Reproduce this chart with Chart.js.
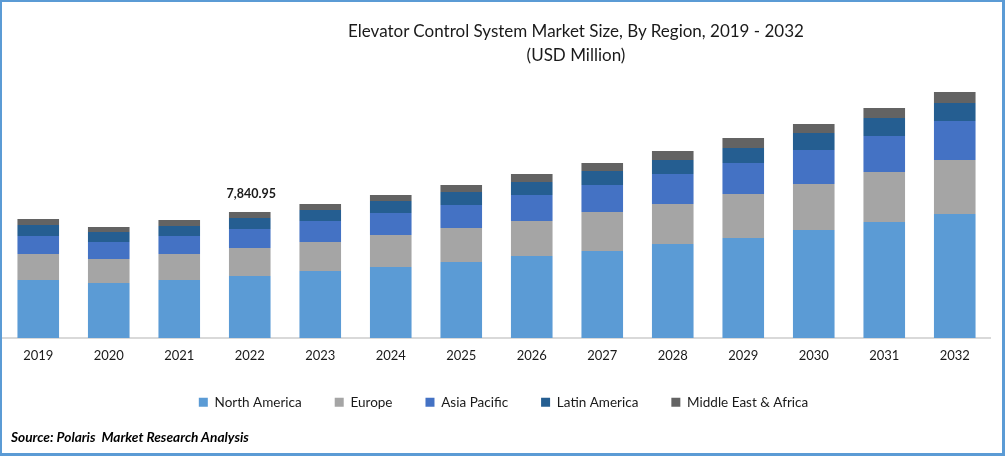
<!DOCTYPE html>
<html>
<head>
<meta charset="utf-8">
<title>Elevator Control System Market Size</title>
<script src="https://cdn.jsdelivr.net/npm/chart.js@4"></script>
<style>
  html, body { margin: 0; padding: 0; background: #fff; }
  #frame { position: relative; width: 1005px; height: 456px; box-sizing: border-box; overflow: hidden; }
  #border { position: absolute; inset: 0; border: 2px solid #5b9bd5; border-right-width: 3px; border-bottom-width: 3px; box-sizing: border-box; pointer-events: none; }
  #chart { position: absolute; left: 0; top: 0; }
  #title { position: absolute; left: 276px; width: 600px; top: 19px; text-align: center; font: 17px/24px Lato, sans-serif; color: #1a1a1a; }
  #source { position: absolute; left: 11px; top: 428px; font: italic bold 13.7px Lato, sans-serif; color: #000; }
</style>
</head>
<body>
<div id="frame">
  <canvas id="chart" width="1005" height="456"></canvas>
  <div id="title">Elevator Control System Market Size, By Region, 2019 - 2032<br>(USD Million)</div>
  <div id="source">Source: Polaris&nbsp; Market Research Analysis</div>
  <div id="border"></div>
</div>
<script>
var years = ['2019', '2020', '2021', '2022', '2023', '2024', '2025', '2026', '2027', '2028', '2029', '2030', '2031', '2032'];
var northAmerica = [3609, 3423, 3609, 3858.2, 4169, 4418, 4729, 5103, 5414, 5850, 6223, 6721, 7219, 7717];
var europe = [1618, 1494, 1618, 1742.4, 1805, 1991, 2116, 2178, 2427, 2489, 2738, 2863, 3112, 3360];
var asiaPacific = [1120, 1058, 1120, 1182.35, 1307, 1369, 1431, 1618, 1680, 1867, 1929, 2116, 2240, 2427];
var latinAmerica = [685, 622, 622, 684.5, 685, 747, 809, 809, 871, 871, 933, 1058, 1120, 1120];
var middleEast = [373, 311, 373, 373.5, 373, 373, 436, 498, 498, 560, 622, 560, 622, 685];
var labelledYear = '2022';

function series(label, data, color) {
    return {
        label: label,
        data: data,
        backgroundColor: color,
        borderWidth: 0,
        barPercentage: 0.59,
        categoryPercentage: 1
    };
}

// total above the one labelled bar
var totalLabel = {
    id: 'totalLabel',
    afterDatasetsDraw: function (chart) {
        var i = years.indexOf(labelledYear);
        var total = northAmerica[i] + europe[i] + asiaPacific[i] + latinAmerica[i] + middleEast[i];
        var x = chart.scales.x.getPixelForValue(i);
        var y = chart.scales.y.getPixelForValue(total);
        var ctx = chart.ctx;
        ctx.save();
        ctx.font = 'bold 12.5px Lato, sans-serif';
        ctx.fillStyle = '#1a1a1a';
        ctx.textAlign = 'center';
        ctx.textBaseline = 'middle';
        ctx.fillText(total.toLocaleString('en-US', { minimumFractionDigits: 2 }), x + 1.5, y - 18);
        ctx.restore();
    }
};

// the legend sits right of the plot centre in the original
var legendShift = {
    id: 'legendShift',
    afterLayout: function (chart) {
        chart.legend.left += 7;
        chart.legend.right += 7;
    }
};

new Chart(document.getElementById('chart'), {
    type: 'bar',
    data: {
        labels: years,
        datasets: [
            series('North America', northAmerica, '#5b9bd5'),
            series('Europe', europe, '#a5a5a5'),
            series('Asia Pacific', asiaPacific, '#4472c4'),
            series('Latin America', latinAmerica, '#255e91'),
            series('Middle East & Africa', middleEast, '#636363')
        ]
    },
    plugins: [totalLabel, legendShift],
    options: {
        responsive: false,
        animation: false,
        devicePixelRatio: 1,
        layout: { padding: { left: 3, right: 15, top: 81, bottom: 37 } },
        scales: {
            x: {
                stacked: true,
                grid: { display: false, drawTicks: false },
                border: { color: '#d9d9d9', width: 2 },
                ticks: { color: '#1a1a1a', font: { family: 'Lato', size: 13 }, padding: 10 },
                // legend padding is wide, let the plot run into it
                afterFit: function (scale) {
                    scale.height -= 11;
                }
            },
            y: {
                stacked: true,
                display: false,
                min: 0,
                max: 16000
            }
        },
        plugins: {
            title: { display: false },
            tooltip: { enabled: false },
            legend: {
                position: 'bottom',
                labels: {
                    color: '#1a1a1a',
                    font: { family: 'Lato', size: 13.5 },
                    boxWidth: 9,
                    boxHeight: 9,
                    padding: 33
                }
            }
        }
    }
});
</script>
</body>
</html>
